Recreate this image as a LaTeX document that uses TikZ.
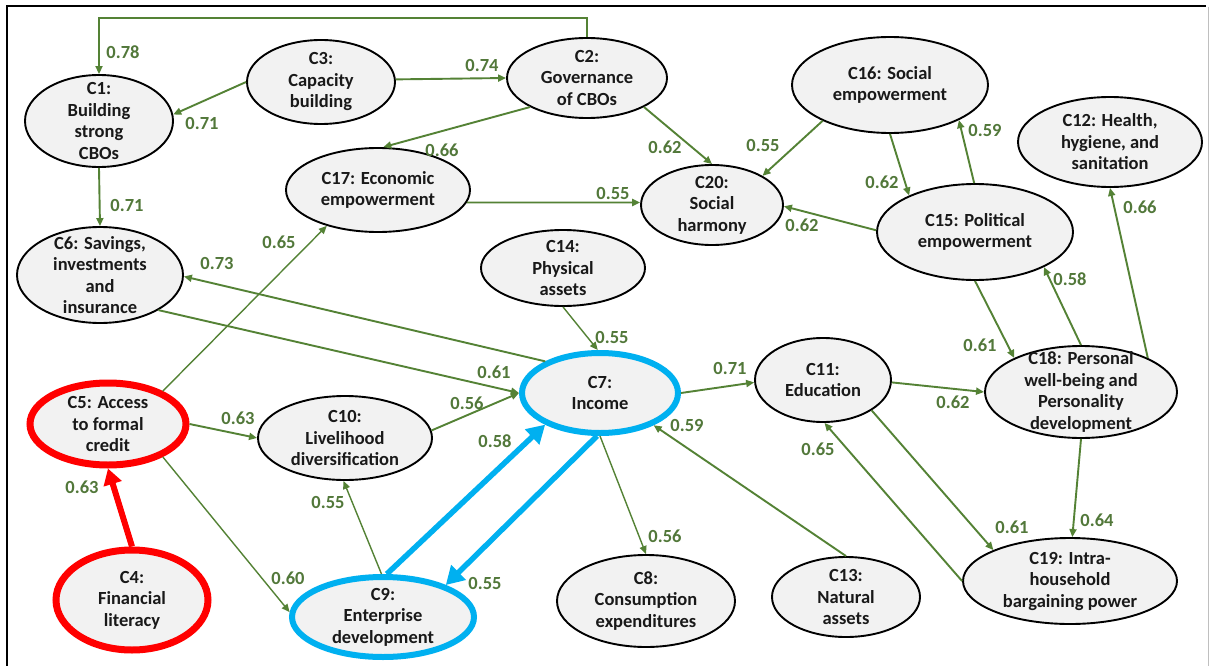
\documentclass[tikz,border=0pt]{standalone}
\usepackage{fontspec}
\setmainfont{Carlito}
\usetikzlibrary{arrows.meta,shapes.geometric}
\definecolor{edgegreen}{RGB}{84,130,53}
\definecolor{labelgreen}{RGB}{82,120,58}
\definecolor{nodefill}{RGB}{242,242,242}
\definecolor{textdark}{RGB}{25,25,25}
\definecolor{hlred}{RGB}{255,0,0}
\definecolor{hlblue}{RGB}{0,176,240}
\begin{document}
\begin{tikzpicture}[x=1pt,y=-1pt,
  concept/.style={ellipse, draw=black, line width=1.9pt, fill=nodefill,
    inner sep=-150pt, align=center, text=textdark,
    font=\fontsize{18.5}{21.5}\selectfont\bfseries},
  redring/.style={draw=hlred, line width=7pt},
  bluering/.style={draw=hlblue, line width=6pt},
  link/.style={draw=edgegreen, line width=1.9pt, -{Triangle[length=8pt,width=7pt]}},
  slim/.style={link, line width=1.4pt},
  redlink/.style={draw=hlred, line width=6pt, -{Triangle[length=16pt,width=18pt]}},
  bluelink/.style={draw=hlblue, line width=5.5pt, -{Triangle[length=18pt,width=20pt]}},
  wt/.style={text=labelgreen, inner sep=0pt, font=\fontsize{18.5}{21}\selectfont\bfseries}]
\useasboundingbox (0,0) rectangle (1212,666);
\fill[white] (0,0) rectangle (1212,666);
% frame
\draw[line width=2pt] (7,666) -- (7,6) -- (1206,6);
\draw[black!25, line width=1pt] (1208,7) -- (1208,666);

% concepts
\node[concept, minimum width=148pt, minimum height=92pt] (c1) at (99,121) {C1:\\Building\\strong\\CBOs};
\node[concept, minimum width=148pt, minimum height=84pt] (c3) at (321,82) {C3:\\Capacity\\building};
\node[concept, minimum width=160pt, minimum height=80pt] (c2) at (587,78) {C2:\\Governance\\of CBOs};
\node[concept, minimum width=196pt, minimum height=96pt] (c16) at (890,85) {C16: Social\\empowerment};
\node[concept, minimum width=184pt, minimum height=90pt] (c12) at (1110,142) {C12: Health,\\hygiene, and\\sanitation};
\node[concept, minimum width=184pt, minimum height=84pt] (c17) at (378,190) {C17: Economic\\empowerment};
\node[concept, minimum width=142pt, minimum height=80pt] (c20) at (712,205) {C20:\\Social\\harmony};
\node[concept, minimum width=196pt, minimum height=96pt] (c15) at (975,232) {C15: Political\\empowerment};
\node[concept, minimum width=166pt, minimum height=96pt] (c6) at (100,275) {C6: Savings,\\investments\\and\\insurance};
\node[concept, minimum width=164pt, minimum height=76pt] (c14) at (563,268) {C14:\\Physical\\assets};
\node[concept, redring, minimum width=156pt, minimum height=82pt] (c5) at (108,424) {C5: Access\\to formal\\credit};
\node[concept, minimum width=174pt, minimum height=84pt] (c10) at (345,438) {C10:\\Livelihood\\diversification};
\node[concept, bluering, minimum width=156pt, minimum height=80pt] (c7) at (600,393) {C7:\\Income};
\node[concept, minimum width=136pt, minimum height=84pt] (c11) at (823,380) {C11:\\Education};
\node[concept, minimum width=192pt, minimum height=92pt] (c18) at (1081,392) {C18: Personal\\well-being and\\Personality\\development};
\node[concept, redring, minimum width=152pt, minimum height=100pt] (c4) at (132,600) {C4:\\Financial\\literacy};
\node[concept, bluering, minimum width=182pt, minimum height=80pt] (c9) at (383,617) {C9:\\Enterprise\\development};
\node[concept, minimum width=178pt, minimum height=92pt] (c8) at (646,601) {C8:\\Consumption\\expenditures};
\node[concept, minimum width=148pt, minimum height=80pt] (c13) at (846,597) {C13:\\Natural\\assets};
\node[concept, minimum width=214pt, minimum height=86pt] (c19) at (1070,581) {C19: Intra-\\household\\bargaining power};

% connectors
\coordinate (rail) at (0,18);
\draw[link] (c2.north) |- (c1.north |- rail) -- (c1.north);
\draw[link] (c3.180) -- (c1.5);
\draw[link] (c3.2) -- (c2.180);
\draw[link] (c1.south) -- (c6.north);
\draw[link] (c2.207) -- (c17.83);
\draw[link] (c2.333) -- (c20.90);
\draw[link] (c16.208) -- (c20.30);
\draw[link] (c16.270) -- (c15.151);
\draw[link] (c15.91) -- (c16.333);
\draw[link] (c17.352) -- (c20.178);
\draw[link] (c15.179) -- (c20.359);
\draw[link] (c18.27) -- (c12.270);
\draw[link] (c18.90) -- (c15.333);
\draw[link] (c15.270) -- (c18.153);
\draw[slim] (c5.31) -- (c17.215);
\draw[link] (c7.150) -- (c6.359);
\draw[link] (c6.329) -- (c7.180);
\draw[slim] (c14.270) -- (c7.93);
\draw[link] (c7.0) -- (c11.182);
\draw[link] (c11.358) -- (c18.180);
\draw[link] (c5.0) -- (c10.180);
\draw[link] (c10.5) -- (c7.180);
\draw[redlink] (c4.90) -- (c5.270);
\draw[slim] (c5.329) -- (c9.177);
\draw[slim] (c9.92) -- (c10.268);
\draw[bluelink] (c9.85) -- (c7.210);
\draw[bluelink] (c7.266) -- (c9.27);
\draw[slim] (c7.270) -- (c8.90);
\draw[link] (c13.90) -- (c7.329);
\draw[link] (c11.328) -- (c19.158);
\draw[link] (c19.180) -- (c11.272);
\draw[link] (c18.270) -- (c19.87);

% path coefficients
\node[wt] (w1) at (123,52) {0.78};
\node[wt] (w2) at (202,123) {0.71};
\node[wt] (w3) at (482,65) {0.74};
\node[wt] (w4) at (127,205) {0.71};
\node[wt] (w5) at (442,150) {0.66};
\node[wt] (w6) at (665,147) {0.62};
\node[wt] (w7) at (763,145) {0.55};
\node[wt] (w8) at (985,130) {0.59};
\node[wt] (w9) at (882,182) {0.62};
\node[wt] (w10) at (613,193) {0.55};
\node[wt] (w11) at (802,225) {0.62};
\node[wt] (w12) at (1140,207) {0.66};
\node[wt] (w13) at (1070,279) {0.58};
\node[wt] (w14) at (980,345) {0.61};
\node[wt] (w15) at (279,242) {0.65};
\node[wt] (w16) at (217,263) {0.73};
\node[wt] (w17) at (494,372) {0.61};
\node[wt] (w18) at (612,337) {0.55};
\node[wt] (w19) at (730,368) {0.71};
\node[wt] (w20) at (953,402) {0.62};
\node[wt] (w21) at (238,418) {0.63};
\node[wt] (w22) at (467,403) {0.56};
\node[wt] (w23) at (495,441) {0.58};
\node[wt] (w24) at (687,425) {0.59};
\node[wt] (w25) at (82,487) {0.63};
\node[wt] (w26) at (288,578) {0.60};
\node[wt] (w27) at (328,502) {0.55};
\node[wt] (w28) at (485,583) {0.55};
\node[wt] (w29) at (665,536) {0.56};
\node[wt] (w30) at (818,449) {0.65};
\node[wt] (w31) at (1012,527) {0.61};
\node[wt] (w32) at (1097,520) {0.64};
\end{tikzpicture}
\end{document}
